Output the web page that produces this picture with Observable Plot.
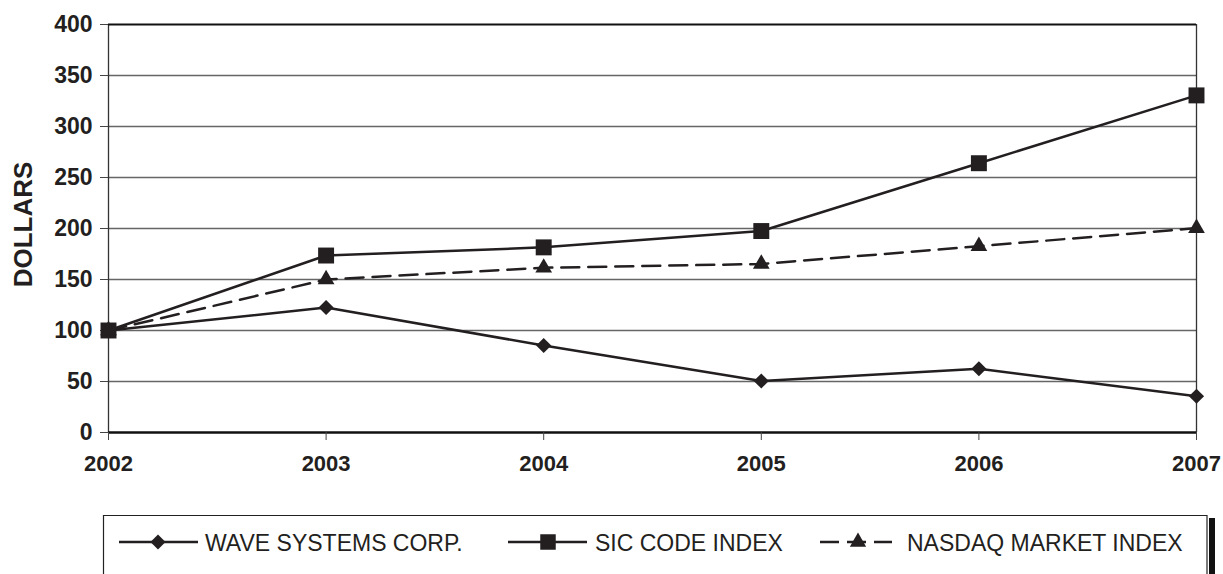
<!DOCTYPE html>
<html>
<head>
<meta charset="utf-8">
<script src="https://cdn.jsdelivr.net/npm/d3@7"></script>
<script src="https://cdn.jsdelivr.net/npm/@observablehq/plot@0.6"></script>
<style>
  html, body { margin: 0; padding: 0; background: #fff; }
  #chart svg { display: block; }
  #legend { display: block; }
</style>
</head>
<body>
<div id="chart"></div>
<svg id="legend" width="1223" height="59"></svg>
<script>
// ---- data ----
const years = [2002, 2003, 2004, 2005, 2006, 2007];
const wave = [100, 122.5, 85.3, 50.5, 62.5, 35.5];
const sic = [100, 173.5, 181.5, 197.5, 264, 330.5];
const nasdaq = [100, 150, 161.5, 165.2, 182.6, 200.4];
const seriesNames = ["WAVE SYSTEMS CORP.", "SIC CODE INDEX", "NASDAQ MARKET INDEX"];
const yTicks = [0, 50, 100, 150, 200, 250, 300, 350, 400];
const gridTicks = [50, 100, 150, 200, 250, 300, 350];
const yLabel = "DOLLARS";

const ink = "#231f20";
const font = "'Liberation Sans', Arial, Helvetica, sans-serif";

const rowsOf = (vals, name) => years.map((yr, i) => ({year: yr, value: vals[i], series: name}));
const waveRows = rowsOf(wave, seriesNames[0]);
const sicRows = rowsOf(sic, seriesNames[1]);
const nasRows = rowsOf(nasdaq, seriesNames[2]);

const chart = Plot.plot({
  width: 1223,
  height: 515,
  marginLeft: 108,
  marginRight: 27,
  marginTop: 24,
  marginBottom: 83,
  style: {fontFamily: font, background: "#fff", color: ink},
  x: {domain: [2002, 2007], type: "linear"},
  y: {domain: [0, 400]},
  marks: [
    Plot.ruleY(gridTicks, {stroke: "#666", strokeWidth: 1.5}),
    Plot.ruleX([2002], {stroke: "#333", strokeWidth: 1.3}),
    Plot.ruleX([2007], {stroke: "#333", strokeWidth: 1.3}),
    Plot.ruleY([400], {stroke: "#111", strokeWidth: 2}),
    Plot.ruleY([0], {stroke: "#111", strokeWidth: 2.5}),
    Plot.axisY({ticks: yTicks, tickSize: 8, tickPadding: 8, tickFormat: d => String(d),
      label: null, fontSize: 23, fontWeight: "bold", fill: ink, stroke: "#444"}),
    Plot.axisX({ticks: years, tickSize: 8, tickPadding: 15, tickFormat: d => String(d),
      label: null, fontSize: 22, fontWeight: "bold", fill: ink, stroke: "#444"}),
    Plot.text([yLabel], {frameAnchor: "left", textAnchor: "middle", dx: -85, dy: -4, rotate: -90, text: d => d,
      fontSize: 26, fontWeight: "bold", fill: ink, lineAnchor: "middle"}),
    Plot.line(waveRows, {x: "year", y: "value", stroke: ink, strokeWidth: 2.5}),
    Plot.line(sicRows, {x: "year", y: "value", stroke: ink, strokeWidth: 2.5}),
    Plot.line(nasRows, {x: "year", y: "value", stroke: ink, strokeWidth: 2.5, strokeDasharray: "18,9"}),
    Plot.dot(waveRows, {x: "year", y: "value", symbol: "diamond2", r: 6.8, fill: ink, stroke: null}),
    Plot.dot(sicRows, {x: "year", y: "value", symbol: "square", r: 9, fill: ink, stroke: null}),
    Plot.dot(nasRows, {x: "year", y: "value", symbol: "triangle", r: 6.2, fill: ink, stroke: null})
  ]
});
document.getElementById("chart").appendChild(chart);

// ---- legend ----
const lg = d3.select("#legend");
lg.append("line").attr("x1", 103).attr("x2", 1207).attr("y1", 0.5).attr("y2", 0.5).attr("stroke", "#222").attr("stroke-width", 1.2);
lg.append("line").attr("x1", 103.5).attr("x2", 103.5).attr("y1", 0).attr("y2", 59).attr("stroke", "#222").attr("stroke-width", 1.2);
lg.append("line").attr("x1", 1207).attr("x2", 1207).attr("y1", 0).attr("y2", 59).attr("stroke", "#222").attr("stroke-width", 1.2);
lg.append("rect").attr("x", 1209).attr("y", 3).attr("width", 6).attr("height", 56).attr("fill", "#111");

const items = [
  {name: seriesNames[0], x1: 119, x2: 198, mx: 158, text: 205, sym: d3.symbolDiamond2, size: 145, dash: null},
  {name: seriesNames[1], x1: 508, x2: 587, mx: 548, text: 595, sym: d3.symbolSquare, size: 240, dash: null},
  {name: seriesNames[2], x1: 820, x2: 892, mx: 858, text: 907, sym: d3.symbolTriangle, size: 115, dash: "19,8"}
];
const ly = 27;
for (const it of items) {
  const ln = lg.append("line").attr("x1", it.x1).attr("x2", it.x2).attr("y1", ly).attr("y2", ly)
    .attr("stroke", ink).attr("stroke-width", 2.5);
  if (it.dash) ln.attr("stroke-dasharray", it.dash);
  lg.append("path").attr("d", d3.symbol(it.sym, it.size)()).attr("transform", `translate(${it.mx},${ly})`).attr("fill", ink);
  lg.append("text").attr("x", it.text).attr("y", 36).attr("fill", ink)
    .style("font-family", font).style("font-size", "23px").text(it.name);
}
</script>
</body>
</html>
